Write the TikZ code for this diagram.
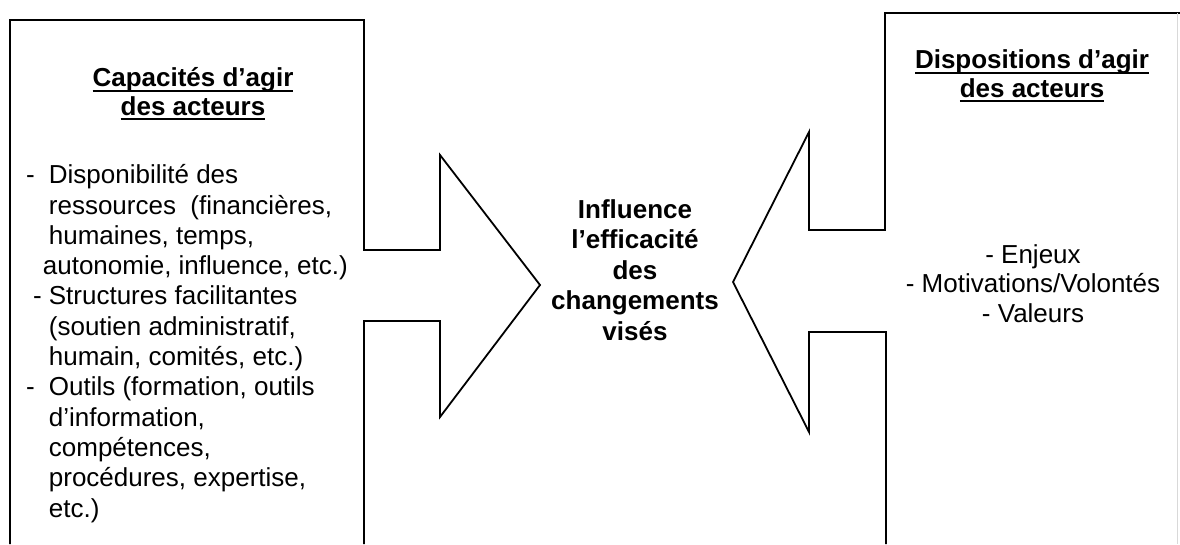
\documentclass[tikz,border=0pt]{standalone}
\usepackage{fontspec}
\setmainfont{Liberation Sans}
\newcommand\undertitle[1]{\setbox0\hbox{#1}\rlap{\rule[-5pt]{\wd0}{1.8pt}}\box0}
\tikzset{
  plain/.style={inner sep=0pt, font=\fontsize{26}{30.3}\selectfont},
  heading/.style={plain, align=center, font=\fontsize{26}{28.5}\selectfont\bfseries}
}
\begin{document}
\begin{tikzpicture}[x=1pt, y=-1pt, line width=1.8pt]
      \useasboundingbox (0, 0) rectangle (1180, 544);
      \draw [line join=miter] (364, 544) -- (364, 321) -- (440, 321) -- (440, 417) -- (540, 285)
            -- (440, 155) -- (440, 250) -- (364, 250) -- (364, 20) -- (10, 20) -- (10, 544);
      \draw [line join=miter] (886, 544) -- (886, 332) -- (809, 332) -- (809, 432) -- (733, 282)
            -- (809, 132) -- (809, 230) -- (885, 230) -- (885, 13) -- (1180, 13);
      \draw [black!15, line width=1pt] (1177, 13) -- (1177, 544);
      % anchor=base sits on the last line
      \node (capa) [heading, anchor=base] at (193, 115)
            {\undertitle{Capacités d’agir}\\ \undertitle{des acteurs}};
      \node (dispo) [heading, anchor=base] at (1032, 97)
            {\undertitle{Dispositions d’agir}\\ \undertitle{des acteurs}};
      \node (influ) [plain, align=center, font=\fontsize{26}{30.5}\selectfont\bfseries, anchor=base] at (635, 340)
            {Influence\\ l’efficacité\\ des\\ changements\\ visés};
      \node (capalist) [plain, align=left, anchor=base west] at (48, 517)
            {\llap{-\hspace{14pt}}Disponibilité des\\
             ressources~ (financières,\\
             humaines, temps,\\
             \hspace*{-6pt}autonomie, influence, etc.)\\
             \llap{- }Structures facilitantes\\
             (soutien administratif,\\
             humain, comités, etc.)\\
             \llap{-\hspace{14pt}}Outils (formation, outils\\
             d’information,\\
             compétences,\\
             procédures, expertise,\\
             etc.)};
      \node (dispolist) [plain, align=center, font=\fontsize{26}{29.5}\selectfont, anchor=base] at (1033, 322)
            {- Enjeux\\ - Motivations/Volontés\\ - Valeurs};
\end{tikzpicture}
\end{document}
